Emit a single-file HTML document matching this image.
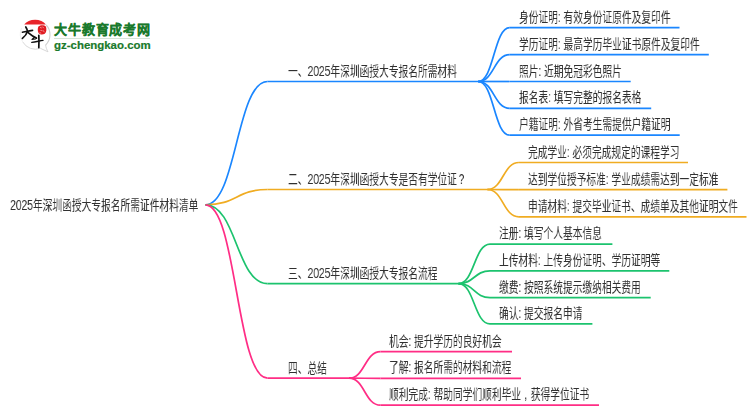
<!DOCTYPE html>
<html lang="zh-CN"><head><meta charset="utf-8"><style>
html,body{margin:0;padding:0;background:#fff;width:750px;height:410px;overflow:hidden;position:relative}
svg{position:absolute;left:0;top:0}
.m path{fill:none;stroke-width:1.7;stroke-linecap:butt}
.t{position:absolute;will-change:transform;white-space:nowrap;font-family:"Liberation Sans",sans-serif;font-size:14.0px;line-height:20px;color:#303030;transform:scaleX(0.695);transform-origin:0 0}
.lg1{position:absolute;left:54.3px;top:22px;font-family:"Liberation Sans",sans-serif;font-weight:bold;font-size:13px;line-height:15px;letter-spacing:0.75px;color:#1a7a2c;-webkit-text-stroke:0.3px #1a7a2c;white-space:nowrap}
.lg2{position:absolute;left:54px;top:39px;font-family:"Liberation Sans",sans-serif;font-weight:bold;font-size:10.5px;line-height:12px;transform:scaleX(1.09);transform-origin:0 0;-webkit-text-stroke:0.2px #1a7a2c;color:#1a7a2c;white-space:nowrap}
.lgsep{position:absolute;left:54px;top:38px;width:96px;height:1px;background:#d5e5d8}
.q{margin-left:3px}
.ls{letter-spacing:0px}
.d{font-size:15.5px;letter-spacing:-0.45px;line-height:1px}
.cm{display:inline-block;width:14px;text-align:center}
</style></head><body>
<svg class="m" width="750" height="410" viewBox="0 0 750 410">
<path d="M205.50,204.80C236.50,204.80 236.50,81.50 267.50,81.50" stroke="#1a86ff"/>
<path d="M267.50,81.50H480.70" stroke="#1a86ff"/>
<path d="M478.20,81.50C493.95,81.50 493.95,27.60 509.70,27.60" stroke="#1a86ff"/>
<path d="M509.70,27.60H679.50" stroke="#1a86ff"/>
<path d="M478.20,81.50C493.95,81.50 493.95,54.70 509.70,54.70" stroke="#1a86ff"/>
<path d="M509.70,54.70H708.80" stroke="#1a86ff"/>
<path d="M478.20,81.50C493.95,81.50 493.95,81.50 509.70,81.50" stroke="#1a86ff"/>
<path d="M509.70,81.50H630.70" stroke="#1a86ff"/>
<path d="M478.20,81.50C493.95,81.50 493.95,108.30 509.70,108.30" stroke="#1a86ff"/>
<path d="M509.70,108.30H651.20" stroke="#1a86ff"/>
<path d="M478.20,81.50C493.95,81.50 493.95,135.20 509.70,135.20" stroke="#1a86ff"/>
<path d="M509.70,135.20H679.70" stroke="#1a86ff"/>
<path d="M205.50,204.80C236.50,204.80 236.50,189.50 267.50,189.50" stroke="#f0ac22"/>
<path d="M267.50,189.50H489.90" stroke="#f0ac22"/>
<path d="M487.40,189.50C503.15,189.50 503.15,162.50 518.90,162.50" stroke="#f0ac22"/>
<path d="M518.90,162.50H688.00" stroke="#f0ac22"/>
<path d="M487.40,189.50C503.15,189.50 503.15,189.60 518.90,189.60" stroke="#f0ac22"/>
<path d="M518.90,189.60H727.40" stroke="#f0ac22"/>
<path d="M487.40,189.50C503.15,189.50 503.15,216.80 518.90,216.80" stroke="#f0ac22"/>
<path d="M518.90,216.80H746.50" stroke="#f0ac22"/>
<path d="M205.50,204.80C236.50,204.80 236.50,283.60 267.50,283.60" stroke="#1cc36e"/>
<path d="M267.50,283.60H461.00" stroke="#1cc36e"/>
<path d="M458.50,283.60C474.25,283.60 474.25,244.10 490.00,244.10" stroke="#1cc36e"/>
<path d="M490.00,244.10H612.40" stroke="#1cc36e"/>
<path d="M458.50,283.60C474.25,283.60 474.25,270.90 490.00,270.90" stroke="#1cc36e"/>
<path d="M490.00,270.90H669.30" stroke="#1cc36e"/>
<path d="M458.50,283.60C474.25,283.60 474.25,297.60 490.00,297.60" stroke="#1cc36e"/>
<path d="M490.00,297.60H650.70" stroke="#1cc36e"/>
<path d="M458.50,283.60C474.25,283.60 474.25,323.90 490.00,323.90" stroke="#1cc36e"/>
<path d="M490.00,323.90H592.40" stroke="#1cc36e"/>
<path d="M205.50,204.80C236.50,204.80 236.50,378.20 267.50,378.20" stroke="#ff2d85"/>
<path d="M267.50,378.20H351.50" stroke="#ff2d85"/>
<path d="M349.00,378.20C364.75,378.20 364.75,351.70 380.50,351.70" stroke="#ff2d85"/>
<path d="M380.50,351.70H512.00" stroke="#ff2d85"/>
<path d="M349.00,378.20C364.75,378.20 364.75,378.30 380.50,378.30" stroke="#ff2d85"/>
<path d="M380.50,378.30H521.00" stroke="#ff2d85"/>
<path d="M349.00,378.20C364.75,378.20 364.75,405.20 380.50,405.20" stroke="#ff2d85"/>
<path d="M380.50,405.20H599.00" stroke="#ff2d85"/>
</svg>
<div class="t ls" style="left:9.70px;top:195.00px"><span class="d">2025</span>年深圳函授大专报名所需证件材料清单</div>
<div class="t ls" style="left:287.60px;top:61.00px">一、<span class="d">2025</span>年深圳函授大专报名所需材料</div>
<div class="t" style="left:518.50px;top:6.60px">身份证明: 有效身份证原件及复印件</div>
<div class="t" style="left:518.50px;top:33.70px">学历证明: 最高学历毕业证书原件及复印件</div>
<div class="t" style="left:518.50px;top:60.50px">照片: 近期免冠彩色照片</div>
<div class="t" style="left:518.50px;top:87.30px">报名表: 填写完整的报名表格</div>
<div class="t" style="left:518.50px;top:114.20px">户籍证明: 外省考生需提供户籍证明</div>
<div class="t ls" style="left:288.00px;top:169.00px">二、<span class="d">2025</span>年深圳函授大专是否有学位证<span class="q">?</span></div>
<div class="t" style="left:527.70px;top:141.50px">完成学业: 必须完成规定的课程学习</div>
<div class="t" style="left:527.70px;top:168.60px">达到学位授予标准: 学业成绩需达到一定标准</div>
<div class="t" style="left:527.70px;top:195.80px">申请材料: 提交毕业证书、成绩单及其他证明文件</div>
<div class="t ls" style="left:288.00px;top:263.10px">三、<span class="d">2025</span>年深圳函授大专报名流程</div>
<div class="t" style="left:498.80px;top:223.10px">注册: 填写个人基本信息</div>
<div class="t" style="left:498.80px;top:249.90px">上传材料: 上传身份证明、学历证明等</div>
<div class="t" style="left:498.80px;top:276.60px">缴费: 按照系统提示缴纳相关费用</div>
<div class="t" style="left:498.80px;top:302.90px">确认: 提交报名申请</div>
<div class="t ls" style="left:288.00px;top:357.70px">四、总结</div>
<div class="t" style="left:389.30px;top:330.70px">机会: 提升学历的良好机会</div>
<div class="t" style="left:389.30px;top:357.30px">了解: 报名所需的材料和流程</div>
<div class="t" style="left:389.30px;top:384.20px">顺利完成: 帮助同学们顺利毕业<span class="cm">,</span>获得学位证书</div>
<svg width="60" height="60" viewBox="0 0 60 60" style="position:absolute;left:0;top:0">
<path d="M46.2,24.8 A14.5,14.5 0 0 1 45.6,45" fill="none" stroke="#cfcfcf" stroke-width="1.1"/>
<path d="M45.6,45 C45.9,47.2 46.8,49.8 48,51.8 C45.6,50.8 42.6,49.4 40.4,48.3" fill="none" stroke="#d2d2d2" stroke-width="0.9"/>
<path d="M40.4,48.3 A14.5,14.5 0 0 1 22.8,42" fill="none" stroke="#dadada" stroke-width="1"/>
<path d="M22.8,42 A14.5,14.5 0 0 1 21.6,28" fill="none" stroke="#eeeeee" stroke-width="0.9"/>
<path d="M24.2,24.4 C26.5,21.6 30.5,19.8 35.1,19.8 C39.7,19.8 43.6,21.6 45.9,24.4 Z" fill="#e8242a"/>
<path d="M38.6,26.4 C40.2,24.8 44.4,24.6 45.8,26.6 C46.8,28.6 46.6,32.4 44.8,33.8 C42.8,35 39.4,34.8 38.4,32.8 C37.6,31 37.4,27.8 38.6,26.4 Z" fill="#e01b22"/>
<path d="M40,27.4 l1.8,0.6 M42.4,26.6 l1.4,1.6 M40.4,30.4 l2.2,0.4 M43.4,30.4 l0.8,1.8 M39.6,32.6 l1.6,0.6" stroke="#f7b8b8" stroke-width="0.7" fill="none"/>
<path d="M22.4,32.2 C25.5,31.6 29.5,30.6 32.6,30.4" stroke="#111" stroke-width="1.6" fill="none" stroke-linecap="round"/>
<path d="M25.8,27 C26.8,28.6 27.5,30 27.4,31.4 C26.8,34 24.6,36.6 22.4,38.4" stroke="#111" stroke-width="1.7" fill="none" stroke-linecap="round"/>
<path d="M27.8,32.4 C30.2,34.4 33,36.6 36.4,38.1" stroke="#111" stroke-width="1.8" fill="none" stroke-linecap="round"/>
<path d="M34,37.6 L32,39.4 L35.4,39" stroke="#111" stroke-width="1.2" fill="none" stroke-linecap="round" stroke-linejoin="round"/>
<path d="M31.8,42.4 C35.5,41.8 39.5,41 43,40.4" stroke="#111" stroke-width="1.4" fill="none" stroke-linecap="round"/>
<path d="M38.8,35.4 C39,39 39,43.5 38.8,47.6" stroke="#111" stroke-width="1.7" fill="none" stroke-linecap="round"/>
</svg>
<div class="lg1">大牛教育成考网</div>
<div class="lg2">gz-chengkao.com</div>
<div class="lgsep"></div>

</body></html>
